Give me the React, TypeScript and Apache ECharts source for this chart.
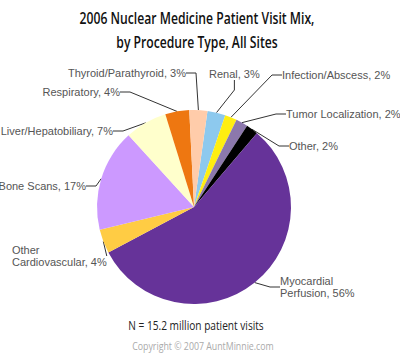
import React, { useEffect, useRef } from "react";
import * as echarts from "echarts";

const categories = [
  "Renal",
  "Infection/Abscess",
  "Tumor Localization",
  "Other",
  "Myocardial\nPerfusion",
  "Other\nCardiovascular",
  "Bone Scans",
  "Liver/Hepatobiliary",
  "Respiratory",
  "Thyroid/Parathyroid",
];
const values = [3, 2, 2, 2, 56, 4, 17, 7, 4, 3];
const colors = [
  "#8DC9EE",
  "#FFEE11",
  "#8C78AC",
  "#000000",
  "#663399",
  "#FFCC44",
  "#CC99FF",
  "#FFFFCC",
  "#EE7711",
  "#FFCCAA",
];
// label anchor positions (x, y, align)
const labelPos: [number, number, string][] = [
  [209, 74, "left"],
  [282, 75, "left"],
  [286, 114, "left"],
  [289, 146, "left"],
  [280, 287, "left"],
  [12, 256, "left"],
  [86, 186, "right"],
  [113, 131, "right"],
  [120, 92, "right"],
  [186, 73, "right"],
];

const TITLE_LINES = ["2006 Nuclear Medicine Patient Visit Mix,", "by Procedure Type, All Sites"];
const NOTE = "N = 15.2 million patient visits";
const COPY = "Copyright \u00A9 2007 AuntMinnie.com";

export default function App() {
  const ref = useRef<HTMLDivElement>(null);
  useEffect(() => {
    if (!ref.current) return;
    const chart = echarts.init(ref.current, undefined, { renderer: "svg" });
    const font = "'Open Sans', 'Noto Sans', sans-serif";
    const txt = (text: string, cx: number, y: number, size: number, weight: any, color: string, sx: number) => ({
      type: "group",
      x: cx,
      y,
      scaleX: sx,
      children: [
        {
          type: "text",
          x: 0,
          y: 0,
          style: {
            text,
            fill: color,
            font: `${weight} ${size}px ${font}`,
            textAlign: "center",
            textVerticalAlign: "middle",
          },
        },
      ],
    });
    chart.setOption({
      animation: false,
      backgroundColor: "#ffffff",
      graphic: [
        txt(TITLE_LINES[0], 197, 18, 16, 600, "#111", 0.76),
        txt(TITLE_LINES[1], 197, 42, 16, 600, "#111", 0.76),
        txt(NOTE, 196, 325, 13, 400, "#222", 0.78),
        txt(COPY, 203, 346, 11, 400, "#aaa", 0.8),
      ],
      series: [
        {
          type: "pie",
          center: [194, 207],
          radius: 97,
          startAngle: 82,
          clockwise: true,
          avoidLabelOverlap: false,
          itemStyle: { borderWidth: 0 },
          emphasis: { disabled: true },
          label: {
            show: true,
            formatter: "{b}, {c}%",
            fontFamily: "'Liberation Sans', Arial, sans-serif",
            fontSize: 11,
            color: "#555",
            lineHeight: 12,
          },
          labelLine: {
            show: true,
            length: 10,
            length2: 10,
            lineStyle: { color: "#333", width: 1 },
          },
          labelLayout: (p: any) => {
            const lp = labelPos[p.dataIndex];
            return {
              x: lp[0],
              y: lp[1],
              align: lp[2],
              verticalAlign: "middle",
            };
          },
          data: categories.map((c, i) => ({
            name: c,
            value: values[i],
            itemStyle: { color: colors[i] },
          })),
        },
      ],
    });
    return () => chart.dispose();
  }, []);
  return (
    <div
      ref={ref}
      style={{ position: "fixed", left: 0, top: 0, width: 400, height: 361 }}
    />
  );
}
